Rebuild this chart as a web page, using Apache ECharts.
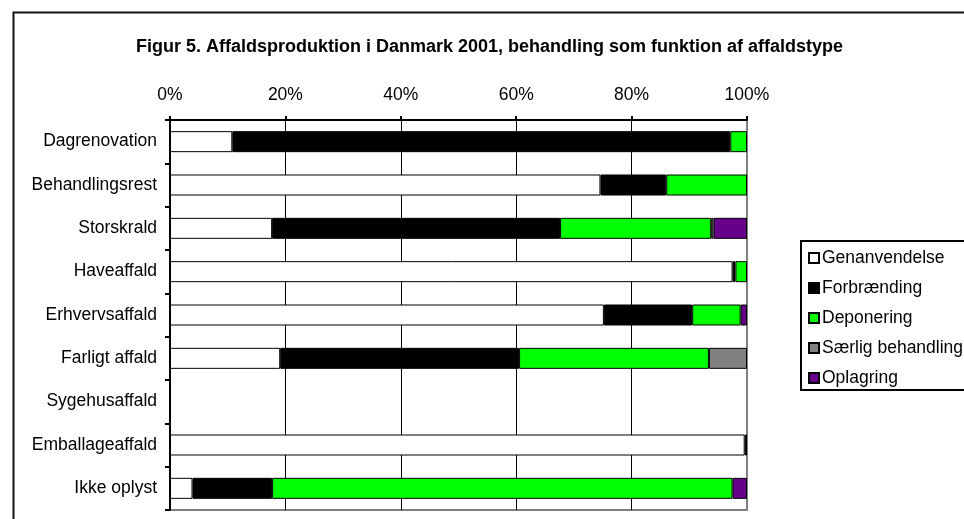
<!DOCTYPE html>
<html lang="da">
<head>
    <meta charset="UTF-8">
    <title>Figur 5</title>
    <style>
        *{
            margin: 0;
            padding: 0;
        }
        body{
            background: #fff;
        }
    </style>
</head>
<body>
<div id="main" style="width: 964px;height:519px;"></div>
<script src="https://cdn.jsdelivr.net/npm/echarts@6/dist/echarts.min.js"></script>
<script type="text/javascript">
    // affaldstyper (y-aksen)
    var categories = ['Dagrenovation','Behandlingsrest','Storskrald','Haveaffald','Erhvervsaffald','Farligt affald','Sygehusaffald','Emballageaffald','Ikke oplyst'];
    // andele i procent
    var genanvendelse = [10.8, 74.6, 17.7, 97.5, 75.2, 19.1, null, 99.6, 3.9];
    var forbraending  = [86.3, 11.4, 49.9, 0.5, 15.3, 41.4, null, 0.4, 13.8];
    var deponering    = [2.9, 14.0, 26.2, 2.0, 8.4, 32.9, null, null, 79.8];
    var saerlig       = [null, null, 0.4, null, null, 6.6, null, null, null];
    var oplagring     = [null, null, 5.8, null, 1.1, null, null, null, 2.5];
    var seriesNames = ['Genanvendelse','Forbrænding','Deponering','Særlig behandling','Oplagring'];
    var xTicks = [0, 20, 40, 60, 80, 100];

    var font = 'Liberation Sans, Arial, sans-serif';
    var colors = ['#ffffff','#000000','#00ff00','#808080','#660088'];
    var values = [genanvendelse, forbraending, deponering, saerlig, oplagring];

    var myChart = echarts.init(document.getElementById('main'));

    var series = [];
    for(let i = 0;i<seriesNames.length;i++){
        series.push({
            name: seriesNames[i],
            type: 'bar',
            stack: 'total',
            barWidth: 21,
            itemStyle: {
                color: colors[i],
                borderColor: '#000',
                borderWidth: 1
            },
            emphasis: {disabled: true},
            data: values[i]
        });
    }

    myChart.setOption({
        animation: false,
        textStyle: {fontFamily: font},
        title: {
            text: 'Figur 5. Affaldsproduktion i Danmark 2001, behandling som funktion af affaldstype',
            left: 131,
            top: 33,
            textStyle: {fontSize: 18, fontWeight: 'bold', color: '#000', fontFamily: font}
        },
        graphic: [{
            type: 'rect',
            left: 11,
            top: 10,
            shape: {width: 1200, height: 800},
            style: {fill: 'none', stroke: '#111', lineWidth: 2},
            silent: true
        }],
        legend: {
            left: 801,
            top: 241,
            orient: 'vertical',
            padding: [7, 30, 2, 7],
            borderColor: '#000',
            borderWidth: 2,
            itemWidth: 10,
            itemHeight: 10,
            itemGap: 10,
            icon: 'rect',
            textStyle: {fontSize: 17.5, color: '#000', lineHeight: 20, padding: [0, 0, 0, -2]},
            data: seriesNames
        },
        grid: {
            left: 170,
            right: 217,
            top: 120,
            bottom: 9,
            show: true,
            borderColor: '#808080',
            borderWidth: 2
        },
        xAxis: {
            type: 'value',
            position: 'top',
            min: xTicks[0],
            max: xTicks[xTicks.length - 1],
            interval: 20,
            axisLine: {show: true, lineStyle: {color: '#000', width: 2}},
            axisTick: {show: true, length: 4, lineStyle: {color: '#000', width: 2}},
            axisLabel: {formatter: '{value}%', fontSize: 17.5, color: '#000', margin: 16},
            splitLine: {show: true, lineStyle: {color: ['#000','#000','#000','#000','#000','#808080'], width: 1}}
        },
        yAxis: {
            type: 'category',
            inverse: true,
            data: categories,
            axisLine: {show: true, lineStyle: {color: '#000', width: 2}},
            axisTick: {show: true, length: 5, lineStyle: {color: '#000', width: 2}},
            axisLabel: {fontSize: 17.5, color: '#000', margin: 13}
        },
        series: series
    });
</script>
</body>
</html>
